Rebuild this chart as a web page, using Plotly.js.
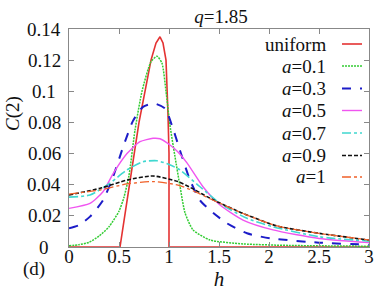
<!DOCTYPE html>
<html>
<head>
<meta charset="utf-8">
<script src="https://cdn.plot.ly/plotly-3.0.1.min.js"></script>
<style>html,body{margin:0;padding:0;background:#fff;}#chart{width:374px;height:299px;}</style>
</head>
<body>
<div id="chart"></div>
<script>
// ---- data ----
const seriesNames = ['uniform', '<i>a</i>=0.1', '<i>a</i>=0.3', '<i>a</i>=0.5', '<i>a</i>=0.7', '<i>a</i>=0.9', '<i>a</i>=1'];

const hUniform = [0, 0.51, 0.6, 0.7, 0.76, 0.82, 0.87, 0.91, 0.94, 0.97, 0.99, 1.0, 1.0, 3];
const cUniform = [0, 0, 0.038, 0.08, 0.10, 0.12, 0.131, 0.135, 0.131, 0.12, 0.085, 0.06, 0, 0];

const hA01 = [0, 0.1, 0.2, 0.3, 0.4, 0.5, 0.55, 0.6, 0.66, 0.73, 0.82, 0.88, 0.93, 0.97, 1.01, 1.06, 1.11, 1.16, 1.24, 1.41, 1.74, 2.2, 3];
const cA01 = [0.0008, 0.0015, 0.003, 0.007, 0.013, 0.023, 0.032, 0.046, 0.075, 0.10, 0.119, 0.1225, 0.118, 0.10, 0.078, 0.058, 0.039, 0.022, 0.011, 0.0045, 0.002, 0.001, 0.0005];

const hA03 = [0, 0.1, 0.21, 0.34, 0.44, 0.54, 0.64, 0.74, 0.85, 0.96, 1.03, 1.11, 1.21, 1.31, 1.44, 1.58, 1.78, 2.01, 2.5, 3];
const cA03 = [0.012, 0.014, 0.0195, 0.030, 0.045, 0.064, 0.081, 0.09, 0.0922, 0.089, 0.078, 0.062, 0.043, 0.030, 0.022, 0.0152, 0.0088, 0.0056, 0.0028, 0.0015];

const hA05 = [0, 0.21, 0.34, 0.44, 0.58, 0.71, 0.84, 0.91, 1.01, 1.09, 1.18, 1.34, 1.51, 1.74, 2.04, 2.5, 3];
const cA05 = [0.0248, 0.028, 0.0355, 0.047, 0.060, 0.0676, 0.0698, 0.0695, 0.0655, 0.061, 0.054, 0.0387, 0.027, 0.0173, 0.011, 0.0055, 0.0028];

const hA07 = [0, 0.21, 0.41, 0.58, 0.74, 0.88, 1.0, 1.11, 1.31, 1.51, 1.78, 2.04, 2.5, 3];
const cA07 = [0.032, 0.0334, 0.041, 0.0495, 0.0548, 0.0554, 0.053, 0.0495, 0.0387, 0.028, 0.0184, 0.013, 0.0066, 0.0038];

const hA09 = [0, 0.31, 0.58, 0.84, 1.09, 1.25, 1.41, 1.74, 2.08, 2.5, 3];
const cA09 = [0.0334, 0.0377, 0.043, 0.0456, 0.042, 0.037, 0.0313, 0.0216, 0.0135, 0.0088, 0.0045];

const hA1 = [0, 0.31, 0.58, 0.84, 1.09, 1.25, 1.41, 1.74, 2.08, 2.5, 3];
const cA1 = [0.034, 0.0366, 0.0405, 0.042, 0.0398, 0.0358, 0.031, 0.0215, 0.0135, 0.0088, 0.0045];

const xTickVals = [0, 0.5, 1, 1.5, 2, 2.5, 3];
const xTickText = ['0', '0.5', '1', '1.5', '2', '2.5', '3'];
const yTickVals = [0, 0.02, 0.04, 0.06, 0.08, 0.1, 0.12, 0.14];
const yTickText = ['0', '0.02', '0.04', '0.06', '0.08', '0.1', '0.12', '0.14'];

// ---- styles ----
const hs = [hUniform, hA01, hA03, hA05, hA07, hA09, hA1];
const cs = [cUniform, cA01, cA03, cA05, cA07, cA09, cA1];
const colors = ['#e43232', '#33cc33', '#1c1cc8', '#f055f0', '#40d8d0', '#111111', '#f06028'];
const dashes = ['solid', '2px,1px', 'dash', 'solid', 'dashdot', '4px,2px', 'dashdot'];
const widths = [1.6, 1.5, 2.0, 1.4, 1.6, 1.6, 1.3];
const shapes = ['linear', 'spline', 'spline', 'spline', 'spline', 'spline', 'spline'];
const legendPy = [44, 66, 88.5, 110.5, 133, 155.5, 177];

const FONT = '"Liberation Serif", "Times New Roman", Times, serif';
const L = 69, R = 369, T = 29, B = 247;
const W = 374, H = 299;
const pw = R - L, ph = B - T;

const traces = hs.map((h, i) => ({
  x: h, y: cs[i], type: 'scatter', mode: 'lines', name: seriesNames[i],
  showlegend: false,
  line: {color: colors[i], dash: dashes[i], width: widths[i], shape: shapes[i], smoothing: 0.6}
}));

const annotations = [];
const shp = [];
seriesNames.forEach((n, i) => {
  const yp = (B - legendPy[i]) / ph;
  annotations.push({xref: 'paper', yref: 'paper', x: (328 - L) / pw, y: yp, xanchor: 'right', yanchor: 'middle',
    text: n, showarrow: false, font: {family: FONT, size: 19, color: '#111'}});
  shp.push({type: 'line', xref: 'paper', yref: 'paper', x0: (342 - L) / pw, x1: (362 - L) / pw, y0: yp, y1: yp,
    line: {color: colors[i], dash: dashes[i], width: widths[i]}});
});
// y tick labels: centred in a column left of the axis, as in the reference
yTickVals.forEach((v, i) => {
  annotations.push({xref: 'paper', yref: 'y', x: (44 - L) / pw, y: v, xanchor: 'center', yanchor: 'middle',
    text: yTickText[i], showarrow: false, font: {family: FONT, size: 19, color: '#111'}});
});
annotations.push({xref: 'paper', yref: 'paper', x: (34 - L) / pw, y: (B - 269) / ph, xanchor: 'center', yanchor: 'middle',
  text: '(d)', showarrow: false, font: {family: FONT, size: 19, color: '#111'}});
annotations.push({xref: 'paper', yref: 'paper', x: (13 - L) / pw, y: (B - 114) / ph, xanchor: 'center', yanchor: 'middle',
  text: '<i>C</i>(2)', textangle: -90, showarrow: false, font: {family: FONT, size: 19, color: '#111'}});

const axisCommon = {
  showgrid: false, zeroline: false, showline: true, mirror: 'ticks', linecolor: '#888', linewidth: 1,
  ticks: 'inside', ticklen: 5, tickcolor: '#888', tickwidth: 1,
  tickfont: {family: FONT, size: 19, color: '#111'}, tickmode: 'array'
};

const layout = {
  width: W, height: H,
  margin: {l: L, r: W - R, t: T, b: H - B, pad: 0},
  paper_bgcolor: '#fff', plot_bgcolor: '#fff',
  showlegend: false,
  font: {family: FONT, size: 19, color: '#111'},
  title: {text: '<i>q</i>=1.85', xref: 'paper', x: (221 - L) / pw, xanchor: 'center', yref: 'container', y: 1 - 16 / H, yanchor: 'middle',
    font: {family: FONT, size: 19, color: '#111'}},
  xaxis: Object.assign({}, axisCommon, {range: [0, 3], tickvals: xTickVals, ticktext: xTickText, ticklabelstandoff: -8,
    title: {text: '<i>h</i>', font: {family: FONT, size: 21, color: '#111'}, standoff: 4}}),
  yaxis: Object.assign({}, axisCommon, {range: [0, 0.14], tickvals: yTickVals, ticktext: yTickText, showticklabels: false}),
  annotations: annotations,
  shapes: shp
};

Plotly.newPlot('chart', traces, layout, {staticPlot: true, displayModeBar: false});
</script>
</body>
</html>
